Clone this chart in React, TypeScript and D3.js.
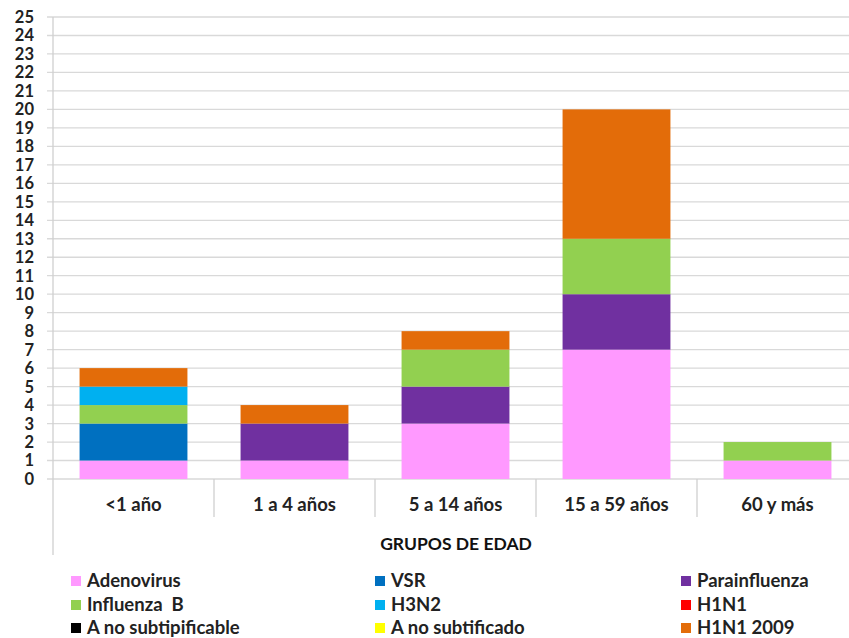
import React from "react";
import * as d3 from "d3";

const groups = ["<1 año", "1 a 4 años", "5 a 14 años", "15 a 59 años", "60 y más"];
const seriesNames = [
  "Adenovirus",
  "VSR",
  "Parainfluenza",
  "Influenza  B",
  "H3N2",
  "H1N1",
  "A no subtipificable",
  "A no subtificado",
  "H1N1 2009",
];
const seriesColors = [
  "#FF99FF",
  "#0070C0",
  "#7030A0",
  "#92D050",
  "#00B0F0",
  "#FF0000",
  "#000000",
  "#FFFF00",
  "#E36C09",
];
// counts per group, one array per series (same order as seriesNames)
const adenovirus = [1, 1, 3, 7, 1];
const vsr = [2, 0, 0, 0, 0];
const parainfluenza = [0, 2, 2, 3, 0];
const influenzaB = [1, 0, 2, 3, 1];
const h3n2 = [1, 0, 0, 0, 0];
const h1n1 = [0, 0, 0, 0, 0];
const aNoSubtipificable = [0, 0, 0, 0, 0];
const aNoSubtificado = [0, 0, 0, 0, 0];
const h1n12009 = [1, 1, 1, 7, 0];
const yTicks = d3.range(0, 26);
const xTitle = "GRUPOS DE EDAD";

const seriesValues = [
  adenovirus,
  vsr,
  parainfluenza,
  influenzaB,
  h3n2,
  h1n1,
  aNoSubtipificable,
  aNoSubtificado,
  h1n12009,
];

const W = 849;
const H = 638;
const FONT = "Lato, 'Open Sans', sans-serif";

export default function App() {
  const left = 53;
  const right = 858;
  const top = 17;
  const bottom = 479;

  const x = d3.scaleBand<string>().domain(groups).range([left, right]).paddingInner(0.33).paddingOuter(0.165);
  const band = (right - left) / groups.length;
  const y = d3.scaleLinear().domain([0, 25]).range([bottom, top]);

  const rows = groups.map((g, i) => {
    const r: Record<string, number | string> = { group: g };
    seriesNames.forEach((s, j) => (r[s] = seriesValues[j][i]));
    return r;
  });
  const stacked = d3.stack<Record<string, number | string>>().keys(seriesNames)(rows as any);

  const legendCols = [71, 375, 681];
  const legendRows = [581, 605, 628];

  return (
    <svg width={W} height={H} style={{ position: "absolute", left: 0, top: 0, background: "#fff" }}>
      {/* gridlines */}
      {yTicks.map((t) => (
        <line key={"g" + t} x1={47} x2={right} y1={y(t)} y2={y(t)} stroke="#d9d9d9" strokeWidth={1.3} />
      ))}
      {/* y tick labels */}
      {yTicks.map((t) => (
        <text
          key={"t" + t}
          x={34}
          y={y(t)}
          dy="0.36em"
          textAnchor="end"
          fontFamily={FONT}
          fontWeight="bold"
          fontSize={16.5}
          fill="#222"
        >
          {t}
        </text>
      ))}
      {/* bars */}
      {stacked.map((layer, j) =>
        layer.map((d, i) =>
          d[1] - d[0] > 0 ? (
            <rect
              key={j + "-" + i}
              x={x(groups[i])!}
              width={x.bandwidth()}
              y={y(d[1])}
              height={y(d[0]) - y(d[1])}
              fill={seriesColors[j]}
            />
          ) : null
        )
      )}
      {/* axes */}
      <line x1={left} x2={left} y1={top} y2={555} stroke="#cfcfcf" strokeWidth={1.3} />
      {groups.map((g, i) =>
        i > 0 ? (
          <line
            key={"s" + i}
            x1={left + band * i}
            x2={left + band * i}
            y1={bottom}
            y2={517}
            stroke="#cfcfcf"
            strokeWidth={1.3}
          />
        ) : null
      )}
      {groups.map((g, i) => (
        <text
          key={"c" + i}
          x={left + band * (i + 0.5)}
          y={505}
          dy="0.35em"
          textAnchor="middle"
          fontFamily={FONT}
          fontWeight="bold"
          fontSize={18.5}
          fill="#222"
        >
          {g}
        </text>
      ))}
      <text x={456} y={544} dy="0.35em" textAnchor="middle" fontFamily={FONT} fontWeight="bold" fontSize={17.5} fill="#111">
        {xTitle}
      </text>
      {/* legend */}
      {seriesNames.map((s, j) => {
        const cx = legendCols[j % 3];
        const cy = legendRows[Math.floor(j / 3)];
        return (
          <g key={"l" + j}>
            <rect x={cx} y={cy - 5} width={10} height={10} fill={seriesColors[j]} />
            <text x={cx + 16} y={cy} dy="0.35em" fontFamily={FONT} fontWeight="bold" fontSize={18.5} fill="#222" xmlSpace="preserve">
              {s}
            </text>
          </g>
        );
      })}
    </svg>
  );
}
